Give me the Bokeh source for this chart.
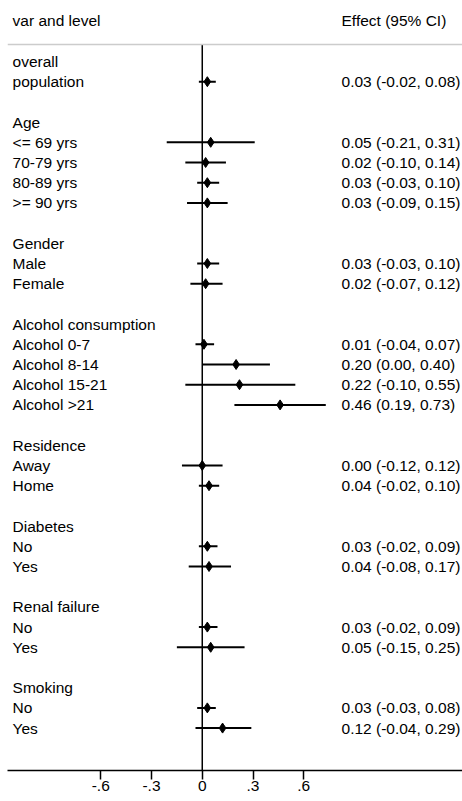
from bokeh.plotting import figure
from bokeh.models import Range1d, FixedTicker, Span, ColumnDataSource
from bokeh.core.properties import value
from bokeh.embed import file_html
from bokeh.resources import INLINE

# ---- data ----
labels = ["overall", "population", "", "Age", "<= 69 yrs", "70-79 yrs", "80-89 yrs", ">= 90 yrs", "",
          "Gender", "Male", "Female", "",
          "Alcohol consumption", "Alcohol 0-7", "Alcohol 8-14", "Alcohol 15-21", "Alcohol >21", "",
          "Residence", "Away", "Home", "",
          "Diabetes", "No", "Yes", "",
          "Renal failure", "No", "Yes", "",
          "Smoking", "No", "Yes"]
est_rows = [1, 4, 5, 6, 7, 10, 11, 14, 15, 16, 17, 20, 21, 24, 25, 28, 29, 32, 33]
est = [0.03, 0.05, 0.02, 0.03, 0.03, 0.03, 0.02, 0.01, 0.20, 0.22, 0.46, 0.00, 0.04, 0.03, 0.04, 0.03, 0.05, 0.03, 0.12]
lo = [-0.02, -0.21, -0.10, -0.03, -0.09, -0.03, -0.07, -0.04, 0.00, -0.10, 0.19, -0.12, -0.02, -0.02, -0.08, -0.02, -0.15, -0.03, -0.04]
hi = [0.08, 0.31, 0.14, 0.10, 0.15, 0.10, 0.12, 0.07, 0.40, 0.55, 0.73, 0.12, 0.10, 0.09, 0.17, 0.09, 0.25, 0.08, 0.29]
tick_vals = [-0.6, -0.3, 0, 0.3, 0.6]
tick_labels = ["-.6", "-.3", "0", ".3", ".6"]
header_left = "var and level"
header_right = "Effect (95% CI)"

FONT = "Liberation Sans"
FS = "15.5px"

X0, X1 = -1.151, 1.538
Y_TOP, Y_BOT = -3.02, 35.1
LABEL_X = -1.121
CI_X = 0.823

p = figure(frame_width=455, frame_height=770, output_backend="svg", toolbar_location=None,
           x_range=Range1d(X0, X1), y_range=Range1d(Y_BOT, Y_TOP),
           min_border_left=7, min_border_right=0, min_border_top=0, min_border_bottom=0)
p.outline_line_color = None
p.xgrid.visible = False
p.ygrid.visible = False
p.yaxis.visible = False

ax = p.xaxis[0]
ax.ticker = FixedTicker(ticks=tick_vals)
ax.major_label_overrides = {v: l for v, l in zip(tick_vals, tick_labels)}
ax.minor_tick_line_color = None
ax.major_tick_in = 0
ax.major_tick_out = 9
ax.major_label_standoff = 1
ax.axis_line_width = 1.5
ax.major_tick_line_width = 1.5
ax.axis_line_color = "black"
ax.major_tick_line_color = "black"
ax.major_label_text_font = FONT
ax.major_label_text_font_size = FS
ax.major_label_text_color = "black"

# header separator
p.add_layout(Span(location=-0.84, dimension="width", line_color="#cccccc", line_width=1.5))

# zero line
p.segment(x0=[0], y0=[-0.84], x1=[0], y1=[Y_BOT], line_color="black", line_width=1.5)

# headers
p.text(x=[LABEL_X], y=[-2.03], text=[header_left], text_font=value(FONT), text_font_size=FS,
       text_baseline="middle", text_align="left", text_color="black")
p.text(x=[CI_X], y=[-2.03], text=[header_right], text_font=value(FONT), text_font_size=FS,
       text_baseline="middle", text_align="left", text_color="black")

# row labels
rows = [i for i, l in enumerate(labels) if l]
p.text(x=[LABEL_X] * len(rows), y=rows, text=[labels[i] for i in rows], text_font=value(FONT),
       text_font_size=FS, text_baseline="middle", text_align="left", text_color="black")

# CIs
src = ColumnDataSource(dict(y=est_rows, est=est, lo=lo, hi=hi,
                            txt=["%.2f (%.2f, %.2f)" % (e, a, b) for e, a, b in zip(est, lo, hi)]))
p.segment(x0="lo", y0="y", x1="hi", y1="y", source=src, line_color="black", line_width=2)
p.scatter(x="est", y="y", source=src, marker="diamond", size=10, fill_color="black", line_color="black")
p.text(x=CI_X, y="y", text="txt", source=src, text_font=value(FONT), text_font_size=FS,
       text_baseline="middle", text_align="left", text_color="black")

open("out.html", "w").write(file_html(p, INLINE))
